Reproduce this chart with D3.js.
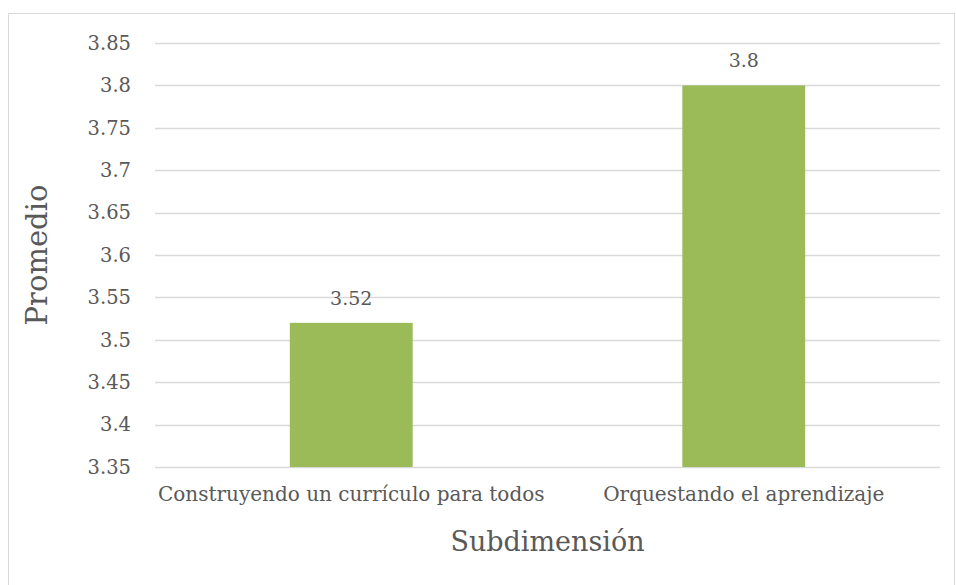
<!DOCTYPE html>
<html>
<head>
<meta charset="utf-8">
<script src="https://cdn.jsdelivr.net/npm/d3@7"></script>
<style>
  body { margin: 0; background: #fff; }
  text { font-family: "DejaVu Serif", "Liberation Serif", serif; fill: #595959; }
</style>
</head>
<body>
<svg id="chart" width="956" height="585"></svg>
<script>
const categories = ['Construyendo un currículo para todos', 'Orquestando el aprendizaje'];
const values = [3.52, 3.8];
const yTicks = [3.35, 3.4, 3.45, 3.5, 3.55, 3.6, 3.65, 3.7, 3.75, 3.8, 3.85];

const width = 956;
const height = 585;
const margin = { top: 43, right: 16, bottom: 118, left: 155 };

const svg = d3.select('#chart');

// outer frame
svg.append('rect')
  .attr('x', 8.5)
  .attr('y', 13.5)
  .attr('width', 946)
  .attr('height', 580)
  .attr('fill', 'none')
  .attr('stroke', '#d9d9d9');

const xScale = d3.scaleBand()
  .domain(categories)
  .range([margin.left, width - margin.right])
  .paddingInner(0.687)
  .paddingOuter(0.3435);

const yScale = d3.scaleLinear()
  .domain([3.35, 3.85])
  .range([height - margin.bottom, margin.top]);

// gridlines
svg.append('g')
  .selectAll('line')
  .data(yTicks)
  .enter().append('line')
  .attr('x1', margin.left)
  .attr('x2', width - margin.right)
  .attr('y1', d => Math.round(yScale(d)) + 0.5)
  .attr('y2', d => Math.round(yScale(d)) + 0.5)
  .attr('stroke', '#d9d9d9')
  .attr('stroke-width', 1.3);

// bars
svg.append('g')
  .selectAll('rect')
  .data(values)
  .enter().append('rect')
  .attr('x', (d, i) => xScale(categories[i]))
  .attr('y', d => yScale(d))
  .attr('width', xScale.bandwidth())
  .attr('height', d => yScale(3.35) - yScale(d))
  .attr('fill', '#9bbb59');

// data labels
svg.append('g')
  .selectAll('text')
  .data(values)
  .enter().append('text')
  .attr('x', (d, i) => xScale(categories[i]) + xScale.bandwidth() / 2)
  .attr('y', d => yScale(d) - 18)
  .attr('text-anchor', 'middle')
  .style('font-size', '19px')
  .text(d => d);

// y axis
const yAxis = svg.append('g')
  .attr('transform', `translate(${margin.left}, 0)`)
  .call(d3.axisLeft(yScale).tickValues(yTicks).tickFormat(d => d3.format('')(+d.toFixed(2))).tickSize(0).tickPadding(24));
yAxis.select('.domain').remove();
yAxis.selectAll('text')
  .style('font-family', '"DejaVu Serif", serif')
  .style('font-size', '19.5px')
  .attr('fill', '#595959');

// x axis
const xAxis = svg.append('g')
  .attr('transform', `translate(0, ${height - margin.bottom})`)
  .call(d3.axisBottom(xScale).tickSize(0).tickPadding(20));
xAxis.select('.domain').remove();
xAxis.selectAll('text')
  .style('font-family', '"DejaVu Serif", serif')
  .style('font-size', '20px')
  .attr('fill', '#595959');

// axis titles
svg.append('text')
  .attr('x', (margin.left + width - margin.right) / 2)
  .attr('y', 551)
  .attr('text-anchor', 'middle')
  .style('font-size', '27px')
  .text('Subdimensión');

svg.append('text')
  .attr('transform', 'rotate(-90)')
  .attr('x', -(margin.top + height - margin.bottom) / 2)
  .attr('y', 47)
  .attr('text-anchor', 'middle')
  .style('font-size', '29px')
  .text('Promedio');
</script>
</body>
</html>
